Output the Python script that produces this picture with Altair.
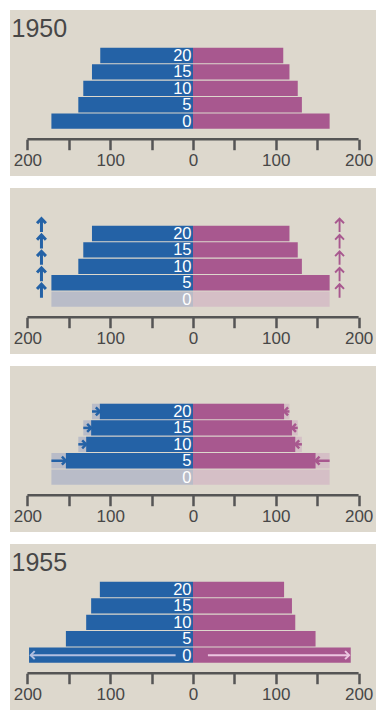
import altair as alt
import pandas as pd

# ---- data ----
YEARS = ["1950", "1955"]
AGES = [0, 5, 10, 15, 20]
MALE_1950 = [171, 138.5, 132.5, 122, 112]
FEMALE_1950 = [165, 131.5, 126.5, 116.5, 109]
MALE_1955 = [198, 153.5, 129, 123, 112.5]
FEMALE_1955 = [190.5, 148, 123.5, 119.5, 110]
TICKS = [-200, -150, -100, -50, 0, 50, 100, 150, 200]

# ---- style ----
BLUE = "#2462a6"
PINK = "#a8588f"
FADE_BLUE = "#b9bcc8"
FADE_PINK = "#d5bfc6"
LIGHT_BLUE = "#b3bfe0"
LIGHT_PINK = "#ecc6e0"
BG = "#ddd8cd"
INK = "#474747"
AXIS_INK = "#555555"
FONT = "Liberation Sans, Arial, Helvetica, sans-serif"

W, H = 366, 166
XDOM = [-221, 221]
YDOM = [-16.7, 33.85]
HALF = 2.33          # half bar thickness (age units)
AXIS_AGE = -5.5      # vertical position of the axis line (age units)
ARROW_GAP = 12
START_M, START_F = 21, 18

XS = alt.Scale(domain=XDOM, nice=False, zero=False)
YS = alt.Scale(domain=YDOM, nice=False, zero=False)

axis_px = H * (YDOM[1] - AXIS_AGE) / (YDOM[1] - YDOM[0])
XAXIS = alt.Axis(
    values=TICKS,
    labelExpr="datum.value % 100 === 0 ? '' + abs(datum.value) : ''",
    domain=False, grid=False, offset=-(H - axis_px),
    tickSize=10.5, tickWidth=2.5, tickColor=AXIS_INK,
    labelColor=INK, labelFontSize=17, labelFont=FONT, labelPadding=3,
    labelFlush=False, labelOverlap=False, labelBound=False, title=None,
)

UP = "M0,1L0,-1M-0.66,-0.3L0,-1L0.66,-0.3"
RIGHT = "M-1,-1L0,0L-1,1"
LEFT = "M1,-1L0,0L1,1"


def X(f):
    return alt.X(f, type="quantitative", scale=XS, axis=XAXIS)


def Y(f):
    return alt.Y(f, type="quantitative", scale=YS, axis=None)


def bar_layer(ages, male, female, cm, cf):
    rows = []
    for a, m, f in zip(ages, male, female):
        rows.append({"y0": a - HALF, "y1": a + HALF, "lo": -m, "hi": 0, "c": cm})
        rows.append({"y0": a - HALF, "y1": a + HALF, "lo": 0, "hi": f, "c": cf})
    return alt.Chart(pd.DataFrame(rows)).mark_rect().encode(
        x=X("lo"), x2="hi", y=Y("y0"), y2="y1",
        color=alt.Color("c:N", scale=None),
    )


def label_layer():
    df = pd.DataFrame({"age": AGES, "z": [0] * len(AGES), "t": [str(a) for a in AGES]})
    return alt.Chart(df).mark_text(
        align="right", baseline="middle", dx=-1.5, dy=0.5,
        fontSize=16.5, font=FONT, color="white",
    ).encode(x=X("z"), y=Y("age"), text="t:N")


def axis_line():
    df = pd.DataFrame({"lo": [min(TICKS)], "hi": [max(TICKS)], "y": [AXIS_AGE]})
    return alt.Chart(df).mark_rule(strokeWidth=2.5, color=AXIS_INK).encode(
        x=X("lo"), x2="hi", y=Y("y")
    )


def title_layer(year):
    return alt.Chart(pd.DataFrame({"t": [year]})).mark_text(
        align="left", baseline="alphabetic", fontSize=25, font=FONT, color=INK
    ).encode(x=alt.value(1.5), y=alt.value(26.7), text="t:N")


def points(xs, ys, shape, color, sw, size):
    df = pd.DataFrame({"x": xs, "y": ys})
    return alt.Chart(df).mark_point(
        shape=shape, filled=False, stroke=color, strokeWidth=sw, size=size, opacity=1
    ).encode(x=X("x"), y=Y("y"))


def shafts(lo, hi, ys, color, sw):
    df = pd.DataFrame({"lo": lo, "hi": hi, "y": ys})
    return alt.Chart(df).mark_rule(strokeWidth=sw, color=color).encode(
        x=X("lo"), x2="hi", y=Y("y")
    )


def panel(layers):
    return alt.layer(*layers).properties(width=W, height=H)


# Panel 1: 1950
p1 = panel([
    bar_layer(AGES, MALE_1950, FEMALE_1950, BLUE, PINK),
    label_layer(), axis_line(), title_layer(YEARS[0]),
])

# Panel 2: cohorts shifted up one age group
mids = [a + 2.5 for a in AGES]
p2 = panel([
    bar_layer(AGES[:1], MALE_1950[:1], FEMALE_1950[:1], FADE_BLUE, FADE_PINK),
    bar_layer(AGES[1:], MALE_1950[:-1], FEMALE_1950[:-1], BLUE, PINK),
    label_layer(), axis_line(),
    points([-(max(MALE_1950) + ARROW_GAP)] * len(mids), mids, UP, BLUE, 3, 180),
    points([max(FEMALE_1950) + ARROW_GAP] * len(mids), mids, UP, PINK, 1.9, 180),
])

# Panel 3: shrink to 1955 values
old_m, new_m = MALE_1950[:-1], MALE_1955[1:]
old_f, new_f = FEMALE_1950[:-1], FEMALE_1955[1:]
p3 = panel([
    bar_layer(AGES[:1], MALE_1950[:1], FEMALE_1950[:1], FADE_BLUE, FADE_PINK),
    bar_layer(AGES[1:], old_m, old_f, FADE_BLUE, FADE_PINK),
    bar_layer(AGES[1:], new_m, new_f, BLUE, PINK),
    label_layer(), axis_line(),
    shafts([-v for v in old_m], [-v for v in new_m], AGES[1:], BLUE, 2.5),
    points([-v for v in new_m], AGES[1:], RIGHT, BLUE, 2.5, 64),
    shafts(old_f, new_f, AGES[1:], PINK, 2.5),
    points(new_f, AGES[1:], LEFT, PINK, 2.5, 64),
])

# Panel 4: 1955 with new births
p4 = panel([
    bar_layer(AGES, MALE_1955, FEMALE_1955, BLUE, PINK),
    shafts([-START_M], [-(MALE_1955[0] - 2)], AGES[:1], LIGHT_BLUE, 2),
    points([-(MALE_1955[0] - 2)], AGES[:1], LEFT, LIGHT_BLUE, 2, 64),
    shafts([START_F], [FEMALE_1955[0] - 2], AGES[:1], LIGHT_PINK, 2),
    points([FEMALE_1955[0] - 2], AGES[:1], RIGHT, LIGHT_PINK, 2, 64),
    label_layer(), axis_line(), title_layer(YEARS[1]),
])

chart = alt.vconcat(p1, p2, p3, p4, spacing=12).properties(
    padding={"left": 2, "top": 2, "right": 2, "bottom": 2},
    background="white",
).configure_view(fill=BG, stroke=None)

chart.save("out.html", embed_options={"renderer": "svg", "actions": False})
